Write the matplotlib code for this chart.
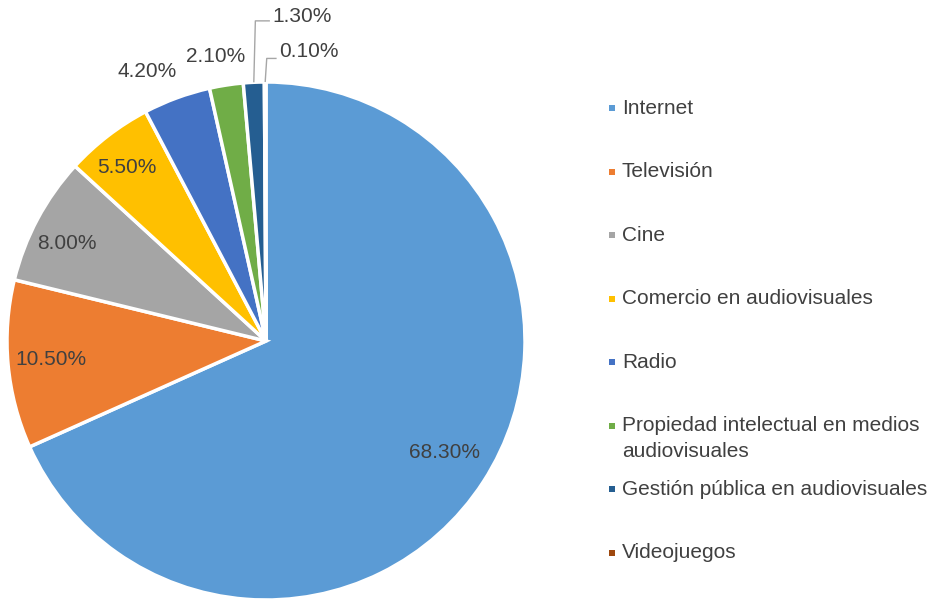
import numpy as np
import matplotlib
matplotlib.use("Agg")
import matplotlib.pyplot as plt
from matplotlib.patches import Rectangle

plt.rcParams['font.family'] = ['Liberation Sans', 'DejaVu Sans']

# Data
categories = ["Internet", "Televisión", "Cine", "Comercio en audiovisuales",
              "Radio", "Propiedad intelectual en medios\naudiovisuales",
              "Gestión pública en audiovisuales", "Videojuegos"]
shares = [68.3, 10.5, 8.0, 5.5, 4.2, 2.1, 1.3, 0.1]
colors = ["#5B9BD5", "#ED7D31", "#A5A5A5", "#FFC000",
          "#4472C4", "#70AD47", "#255E91", "#9E480E"]

# Label layout (in pie radius units)
label_xy = [(0.691, -0.429), (-0.830, -0.073), (-0.768, 0.375), (-0.537, 0.668),
            (-0.459, 1.039), (-0.193, 1.097), (0.139, 1.251), (0.166, 1.116)]
# leader lines for the two thinnest slices: (corner x offset, line height, end x)
leaders = {6: (0.006, 1.236, 0.015), 7: (0.006, 1.091, 0.041)}

text_color = "#404040"
W, H = 934, 604
fig = plt.figure(figsize=(W / 100, H / 100), dpi=100)
fig.patch.set_facecolor("white")

cx, cy, R = 266, 341, 259
ax = fig.add_axes([(cx - R) / W, (H - cy - R) / H, 2 * R / W, 2 * R / H])
wedges, _ = ax.pie(shares, colors=colors, startangle=90, counterclock=False,
                   radius=1.0,
                   wedgeprops=dict(edgecolor="white", linewidth=2.5))
ax.set_xlim(-1, 1)
ax.set_ylim(-1, 1)
ax.axis("off")

for i, (v, (lx, ly)) in enumerate(zip(shares, label_xy)):
    txt = f"{v:.2f}%"
    if i in leaders:
        w = wedges[i]
        mid = np.deg2rad((w.theta1 + w.theta2) / 2)
        sx, sy = np.cos(mid), np.sin(mid)
        dx, yl, ex = leaders[i]
        ax.plot([sx, sx + dx, ex], [sy, yl, yl], color="#A6A6A6", lw=1.0,
                clip_on=False, solid_capstyle="butt")
    ax.text(lx, ly, txt, ha="center", va="center", fontsize=15,
            color=text_color, clip_on=False)

# Legend
leg_x_marker = 611.7
leg_x_text = 622
leg_y0, leg_dy = 108.3, 63.5
line_gap = 26
for i, (name, col) in enumerate(zip(categories, colors)):
    y = leg_y0 + leg_dy * i
    s = 6
    fig.patches.append(Rectangle(((leg_x_marker - s / 2) / W, (H - y - s / 2) / H),
                                 s / W, s / H, transform=fig.transFigure,
                                 facecolor=col, edgecolor="none"))
    for k, line in enumerate(name.split("\n")):
        fig.text(leg_x_text / W, (H - y - k * line_gap) / H, line,
                 ha="left", va="center", fontsize=15, color=text_color)

fig.savefig("out.png", dpi=100, facecolor="white")
